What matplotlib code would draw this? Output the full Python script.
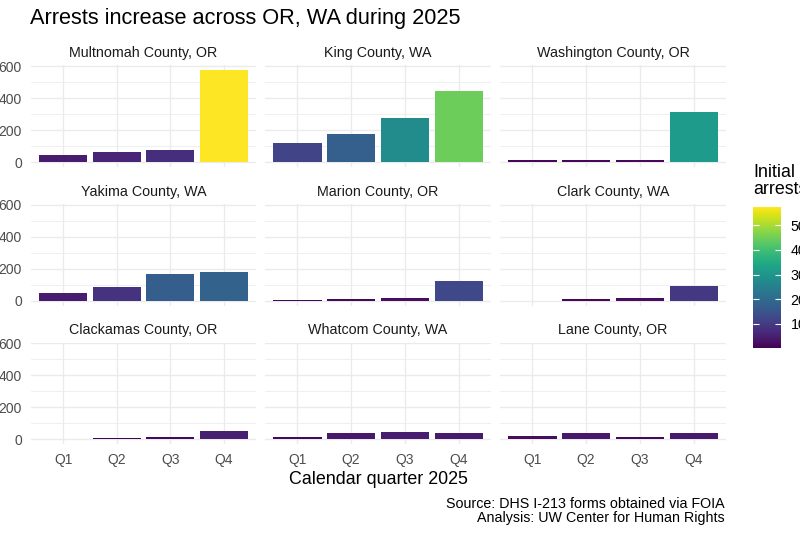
import matplotlib
matplotlib.use("Agg")
import matplotlib.pyplot as plt
import numpy as np
from matplotlib import cm
from matplotlib.colors import Normalize

plt.rcParams["font.family"] = ["Liberation Sans", "DejaVu Sans"]

# Datos (detenciones iniciales por trimestre)
quarters = ["Q1", "Q2", "Q3", "Q4"]
counties = [
    "Multnomah County, OR", "King County, WA", "Washington County, OR",
    "Yakima County, WA", "Marion County, OR", "Clark County, WA",
    "Clackamas County, OR", "Whatcom County, WA", "Lane County, OR",
]
multnomah = [46, 61, 77, 575]
king = [117, 173, 277, 446]
washington = [10, 10, 14, 314]
yakima = [48, 86, 171, 179]
marion = [8, 14, 21, 125]
clark = [3, 10, 19, 94]
clackamas = [1, 5, 14, 52]
whatcom = [14, 39, 45, 41]
lane = [21, 37, 14, 41]
series = [multnomah, king, washington, yakima, marion, clark, clackamas, whatcom, lane]

y_major = [0, 200, 400, 600]
y_minor = [100, 300, 500]
cbar_ticks = [100, 200, 300, 400, 500]

W, H = 800, 534
fig = plt.figure(figsize=(W / 100, H / 100), dpi=100)


def box(x0, y0, x1, y1):
    return [x0 / W, 1 - y1 / H, (x1 - x0) / W, (y1 - y0) / H]


def fx(x):
    return x / W


def fy(y):
    return 1 - y / H


todos = np.concatenate([np.array(s) for s in series])
norm = Normalize(vmin=todos.min(), vmax=todos.max())
cmap = plt.get_cmap("viridis")
ymax = todos.max()

col_x = [(31, 256), (265, 491), (500, 726)]
row_y = [(65.4, 166.6), (204.4, 305.6), (342.7, 443.9)]
pos = np.arange(1, len(quarters) + 1)

for i, (nombre, vals) in enumerate(zip(counties, series)):
    r, c = divmod(i, 3)
    x0, x1 = col_x[c]
    y0, y1 = row_y[r]
    ax = fig.add_axes(box(x0, y0, x1, y1))
    vals = np.array(vals)
    ax.bar(pos, vals, width=0.9, color=cmap(norm(vals)), linewidth=0)
    ax.set_xlim(0.4, len(quarters) + 0.6)
    ax.set_ylim(-0.05 * ymax, 1.05 * ymax)
    ax.set_yticks(y_major)
    ax.set_yticks(y_minor, minor=True)
    ax.set_xticks(pos)
    ax.set_xticklabels(quarters)
    ax.grid(which="major", color="#EBEBEB", linewidth=1.0)
    ax.grid(which="minor", axis="y", color="#EBEBEB", linewidth=0.55)
    ax.set_axisbelow(True)
    for s in ax.spines.values():
        s.set_visible(False)
    ax.tick_params(which="both", length=0)
    ax.tick_params(axis="y", pad=6.5, labelsize=10, labelcolor="#4D4D4D",
                   labelleft=(c == 0))
    ax.tick_params(axis="x", pad=6.3, labelsize=10, labelcolor="#4D4D4D",
                   labelbottom=(r == 2))
    fig.text(fx((x0 + x1) / 2), fy(y0 - 8.3), nombre, ha="center",
             va="baseline", fontsize=10.3, color="#1A1A1A")

# Barra de color
cax = fig.add_axes(box(753, 206.7, 781, 348.3))
sm = cm.ScalarMappable(norm=norm, cmap=cmap)
cb = fig.colorbar(sm, cax=cax)
cb.outline.set_visible(False)
cb.set_ticks(cbar_ticks)
cax.tick_params(direction="in", length=4, width=0.8, color="white",
                left=True, right=True, labelleft=False, labelright=True,
                pad=7, labelsize=10.3, labelcolor="black")
fig.text(fx(753), fy(177.3), "Initial", fontsize=12.9, va="baseline")
fig.text(fx(753), fy(194.3), "arrests", fontsize=12.9, va="baseline")

fig.text(fx(30), fy(24.4), "Arrests increase across OR, WA during 2025",
         fontsize=15.7, va="baseline")
fig.text(fx(378.5), fy(483.8), "Calendar quarter 2025", fontsize=12.9,
         ha="center", va="baseline")
fig.text(fx(725), fy(507.5), "Source: DHS I-213 forms obtained via FOIA",
         fontsize=10.3, ha="right", va="baseline")
fig.text(fx(725), fy(522), "Analysis: UW Center for Human Rights",
         fontsize=10.3, ha="right", va="baseline")

fig.savefig("out.png", dpi=100)
